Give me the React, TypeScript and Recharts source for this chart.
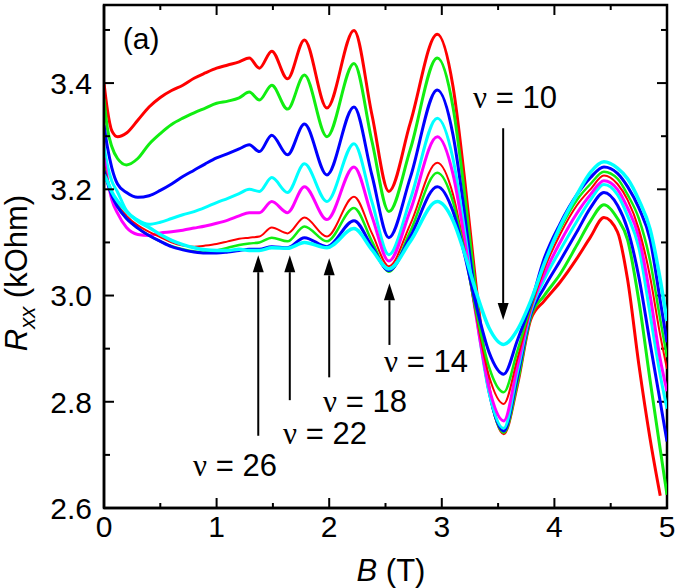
import { LineChart, Line, XAxis, YAxis, ReferenceLine, ReferenceDot, ReferenceArea, Label } from 'recharts'

// magnetic field grid (T)
const B = [0, 0.03, 0.07, 0.12, 0.2, 0.3, 0.4, 0.5, 0.6, 0.7, 0.8, 0.9, 1.0, 1.1, 1.2,
  1.29, 1.38, 1.49, 1.63, 1.78, 1.98, 2.22, 2.38, 2.53, 2.72, 2.96,
  3.1, 3.2, 3.3, 3.42, 3.55, 3.67, 3.79, 3.91, 4.05, 4.2, 4.32, 4.44,
  4.56, 4.65, 4.75, 4.85, 4.94, 5.0]

// Rxx (kOhm), one array per trace
const red1 = [3.40, 3.35, 3.31, 3.299, 3.306, 3.33, 3.355, 3.373, 3.386, 3.396, 3.409, 3.419, 3.428, 3.434, 3.44,
  3.447, 3.428, 3.46, 3.408, 3.481, 3.353, 3.499, 3.34, 3.196, 3.325, 3.492,
  3.393, 3.224, 3.027, 2.827, 2.74, 2.83, 2.955, 2.99, 3.025, 3.07, 3.11, 3.147,
  3.12, 3.03, 2.87, 2.73, 2.623, null]
const green2 = [3.37, 3.315, 3.28, 3.258, 3.246, 3.258, 3.285, 3.305, 3.322, 3.334, 3.344, 3.353, 3.362, 3.366, 3.372,
  3.383, 3.368, 3.396, 3.351, 3.415, 3.299, 3.437, 3.29, 3.158, 3.275, 3.447,
  3.354, 3.196, 3.011, 2.823, 2.742, 2.835, 2.96, 3.0, 3.04, 3.095, 3.14, 3.171,
  3.145, 3.105, 2.99, 2.84, 2.71, 2.625]
const blue3 = [3.32, 3.28, 3.24, 3.21, 3.194, 3.185, 3.188, 3.198, 3.21, 3.224, 3.236, 3.248, 3.259, 3.267, 3.276,
  3.284, 3.271, 3.302, 3.265, 3.323, 3.227, 3.355, 3.226, 3.109, 3.222, 3.387,
  3.302, 3.158, 2.99, 2.819, 2.745, 2.845, 2.965, 3.015, 3.065, 3.12, 3.165, 3.194,
  3.17, 3.125, 3.035, 2.91, 2.8, 2.725]
const cyan4 = [3.28, 3.245, 3.215, 3.195, 3.16, 3.142, 3.134, 3.138, 3.145, 3.152, 3.158, 3.166, 3.175, 3.183, 3.192,
  3.2, 3.196, 3.222, 3.194, 3.248, 3.177, 3.286, 3.176, 3.077, 3.181, 3.334,
  3.257, 3.126, 2.973, 2.817, 2.75, 2.855, 2.97, 3.03, 3.085, 3.14, 3.18, 3.209,
  3.19, 3.15, 3.09, 2.965, 2.85, 2.787]
const magenta5 = [3.259, 3.22, 3.18, 3.155, 3.128, 3.115, 3.113, 3.118, 3.12, 3.123, 3.127, 3.131, 3.136, 3.142, 3.15,
  3.156, 3.156, 3.177, 3.156, 3.205, 3.143, 3.242, 3.149, 3.065, 3.16, 3.299,
  3.228, 3.109, 2.968, 2.826, 2.764, 2.865, 2.975, 3.04, 3.1, 3.155, 3.19, 3.216,
  3.2, 3.165, 3.11, 3.0, 2.88, 2.82]
const red6 = [3.245, 3.22, 3.195, 3.172, 3.15, 3.132, 3.12, 3.11, 3.1, 3.094, 3.092, 3.094, 3.097, 3.102, 3.107,
  3.109, 3.111, 3.128, 3.117, 3.147, 3.111, 3.186, 3.117, 3.055, 3.134, 3.25,
  3.19, 3.088, 2.969, 2.848, 2.796, 2.88, 2.975, 3.05, 3.115, 3.17, 3.2, 3.226,
  3.21, 3.18, 3.125, 3.035, 2.925, 2.862]
const green7 = [3.24, 3.215, 3.19, 3.168, 3.145, 3.127, 3.113, 3.102, 3.093, 3.087, 3.083, 3.082, 3.085, 3.09, 3.095,
  3.098, 3.1, 3.109, 3.102, 3.13, 3.102, 3.165, 3.102, 3.045, 3.121, 3.231,
  3.176, 3.084, 2.975, 2.865, 2.818, 2.895, 2.98, 3.06, 3.125, 3.18, 3.21, 3.233,
  3.22, 3.19, 3.145, 3.065, 2.955, 2.884]
const blue8 = [3.235, 3.213, 3.188, 3.167, 3.145, 3.127, 3.113, 3.102, 3.092, 3.086, 3.082, 3.08, 3.08, 3.082, 3.085,
  3.087, 3.087, 3.092, 3.09, 3.109, 3.092, 3.141, 3.092, 3.047, 3.111, 3.205,
  3.158, 3.079, 2.986, 2.893, 2.852, 2.915, 2.985, 3.07, 3.135, 3.19, 3.222, 3.242,
  3.23, 3.205, 3.165, 3.105, 2.99, 2.912]
const cyan9 = [3.227, 3.215, 3.195, 3.178, 3.158, 3.14, 3.128, 3.115, 3.104, 3.096, 3.09, 3.086, 3.085, 3.085, 3.087,
  3.085, 3.085, 3.09, 3.089, 3.1, 3.09, 3.126, 3.086, 3.05, 3.102, 3.177,
  3.141, 3.081, 3.01, 2.939, 2.908, 2.935, 2.99, 3.06, 3.13, 3.19, 3.232, 3.252,
  3.24, 3.22, 3.18, 3.125, 3.03, 2.952]

const X_MIN = 0
const X_MAX = 5
const Y_MIN = 2.6
const Y_MAX = 3.547
const xTicks = [0, 0.5, 1, 1.5, 2, 2.5, 3, 3.5, 4, 4.5, 5]
const yTicks = [2.6, 2.7, 2.8, 2.9, 3.0, 3.1, 3.2, 3.3, 3.4, 3.5]

// filling-factor arrows: B position, tail and tip Rxx
const arrows = [
  { b: 1.37, from: 2.736, to: 3.076 },
  { b: 1.65, from: 2.803, to: 3.076 },
  { b: 2.0, from: 2.846, to: 3.07 },
  { b: 2.535, from: 2.907, to: 3.023 },
  { b: 3.545, from: 3.315, to: 2.954 },
]
const notes = [
  { b: 1.163, r: 2.681, nu: '26' },
  { b: 1.963, r: 2.741, nu: '22' },
  { b: 2.318, r: 2.801, nu: '18' },
  { b: 2.86, r: 2.878, nu: '14' },
  { b: 3.65, r: 3.374, nu: '10' },
]

const series = [
  { key: 'r1', data: red1, color: '#ff0000', w: 3 },
  { key: 'g2', data: green2, color: '#11ee11', w: 3 },
  { key: 'b3', data: blue3, color: '#0000ff', w: 3 },
  { key: 'c4', data: cyan4, color: '#00ffff', w: 3 },
  { key: 'm5', data: magenta5, color: '#ff00ff', w: 3 },
  { key: 'r6', data: red6, color: '#ff0000', w: 2 },
  { key: 'g7', data: green7, color: '#11ee11', w: 2.5 },
  { key: 'b8', data: blue8, color: '#0000ff', w: 3 },
  { key: 'c9', data: cyan9, color: '#00ffff', w: 3.5 },
]

const rows = B.map((b, i) => {
  const row: any = { b }
  series.forEach(s => { row[s.key] = s.data[i] })
  return row
})

const W = 677
const H = 588
const M = { top: 5, right: 10, bottom: 0, left: 0 }
const Y_AXIS_W = 104
const X_AXIS_H = 80

const FONT = '"Liberation Sans", Arial, Helvetica, sans-serif'

const isMajorX = (v: number) => Math.abs(v - Math.round(v)) < 1e-6
const isMajorY = (v: number) => Math.round(v * 10) % 2 === 0

function BottomTick({ x, y, payload }: any) {
  const major = isMajorX(payload.value)
  return (
    <g>
      <line x1={x} y1={y} x2={x} y2={y - (major ? 10 : 5)} stroke="#000" strokeWidth={2} />
      {major && (
        <text x={x} y={y + 29} textAnchor="middle" fontSize={30} fontFamily={FONT} fill="#000">
          {payload.value}
        </text>
      )}
    </g>
  )
}

function LeftTick({ x, y, payload }: any) {
  const major = isMajorY(payload.value)
  return (
    <g>
      <line x1={x} y1={y} x2={x + (major ? 10 : 6)} y2={y} stroke="#000" strokeWidth={2} />
      {major && (
        <text x={x - 12} y={y} dy="0.36em" textAnchor="end" fontSize={30} fontFamily={FONT} fill="#000">
          {payload.value.toFixed(1)}
        </text>
      )}
    </g>
  )
}

// whole plot box drawn as a reference area; top/right ticks placed from its corners
function BoxShape(props: any) {
  const { x, y, width, height } = props
  const px = (v: number) => x + (width * (v - X_MIN)) / (X_MAX - X_MIN)
  const py = (v: number) => y + height - (height * (v - Y_MIN)) / (Y_MAX - Y_MIN)
  const right = x + width
  return (
    <g>
      <rect x={x} y={y} width={width} height={height} fill="none" stroke="#000" strokeWidth={2.5} />
      {xTicks.map(v => (
        <line key={'x' + v} x1={px(v)} y1={y} x2={px(v)} y2={y + (isMajorX(v) ? 10 : 5)} stroke="#000" strokeWidth={2} />
      ))}
      {yTicks.map(v => (
        <line key={'y' + v} x1={right} y1={py(v)} x2={right - (isMajorY(v) ? 10 : 6)} y2={py(v)} stroke="#000" strokeWidth={2} />
      ))}
    </g>
  )
}

function YTitle({ viewBox }: any) {
  const cx = viewBox.x + 27
  const cy = viewBox.y + 268
  return (
    <text x={cx} y={cy} transform={`rotate(-90 ${cx} ${cy})`} textAnchor="middle" fontSize={31} fontFamily={FONT} fill="#000">
      <tspan fontStyle="italic">R</tspan>
      <tspan fontStyle="italic" fontSize={22} dy={8}>xx</tspan>
      <tspan dy={-8}> (kOhm)</tspan>
    </text>
  )
}

function XTitle({ viewBox }: any) {
  return (
    <text x={viewBox.x + 287} y={viewBox.y + 73} textAnchor="middle" fontSize={31} fontFamily={FONT} fill="#000">
      <tspan fontStyle="italic">B</tspan>
      <tspan> (T)</tspan>
    </text>
  )
}

function Arrow({ x1, y1, x2, y2 }: any) {
  const dir = y2 > y1 ? 1 : -1
  const head = 17
  return (
    <g>
      <line x1={x1} y1={y1} x2={x2} y2={y2 - dir * head} stroke="#000" strokeWidth={2} />
      <path d={`M${x2},${y2} L${x2 - 5.5},${y2 - dir * head} L${x2 + 5.5},${y2 - dir * head} Z`} fill="#000" />
    </g>
  )
}

const nuText = (nu: string) => ({ cx, cy }: any) => (
  <text x={cx} y={cy} dy="0.36em" textAnchor="middle" fontSize={31} fontFamily={FONT} fill="#000">
    <tspan fontFamily='"Liberation Serif", "Times New Roman", serif'>ν</tspan>
    <tspan> = {nu}</tspan>
  </text>
)

const panelText = ({ cx, cy }: any) => (
  <text x={cx} y={cy} dy="0.36em" textAnchor="middle" fontSize={30} fontFamily={FONT} fill="#000">(a)</text>
)

export default function App() {
  return (
    <div style={{ position: 'absolute', left: 0, top: 0, width: W, height: H, background: '#fff' }}>
      <LineChart width={W} height={H} data={rows} margin={M}>
        <XAxis
          dataKey="b" type="number" domain={[X_MIN, X_MAX]} ticks={xTicks}
          allowDataOverflow height={X_AXIS_H} tickSize={0} tickMargin={0}
          axisLine={{ stroke: '#000', strokeWidth: 2.5 }} tickLine={false} tick={<BottomTick />}
        >
          <Label content={<XTitle />} />
        </XAxis>
        <YAxis
          type="number" domain={[Y_MIN, Y_MAX]} ticks={yTicks} allowDataOverflow
          width={Y_AXIS_W} tickSize={0} tickMargin={0}
          axisLine={{ stroke: '#000', strokeWidth: 2.5 }} tickLine={false} tick={<LeftTick />}
        >
          <Label content={<YTitle />} />
        </YAxis>
        <ReferenceArea
          x1={X_MIN} x2={X_MAX} y1={Y_MIN} y2={Y_MAX} ifOverflow="visible"
          fill="none" stroke="#000" shape={BoxShape}
        />
        {series.map(s => (
          <Line
            key={s.key} dataKey={s.key} type="monotone"
            stroke={s.color} strokeWidth={s.w} dot={false} activeDot={false} isAnimationActive={false}
          />
        ))}
        {arrows.map((a, i) => (
          <ReferenceLine
            key={'a' + i}
            segment={[{ x: a.b, y: a.from }, { x: a.b, y: a.to }]}
            shape={Arrow}
          />
        ))}
        {notes.map((n, i) => (
          <ReferenceDot key={'n' + i} x={n.b} y={n.r} r={1} shape={nuText(n.nu)} />
        ))}
        <ReferenceDot x={0.33} y={3.485} r={1} shape={panelText} />
      </LineChart>
    </div>
  )
}
